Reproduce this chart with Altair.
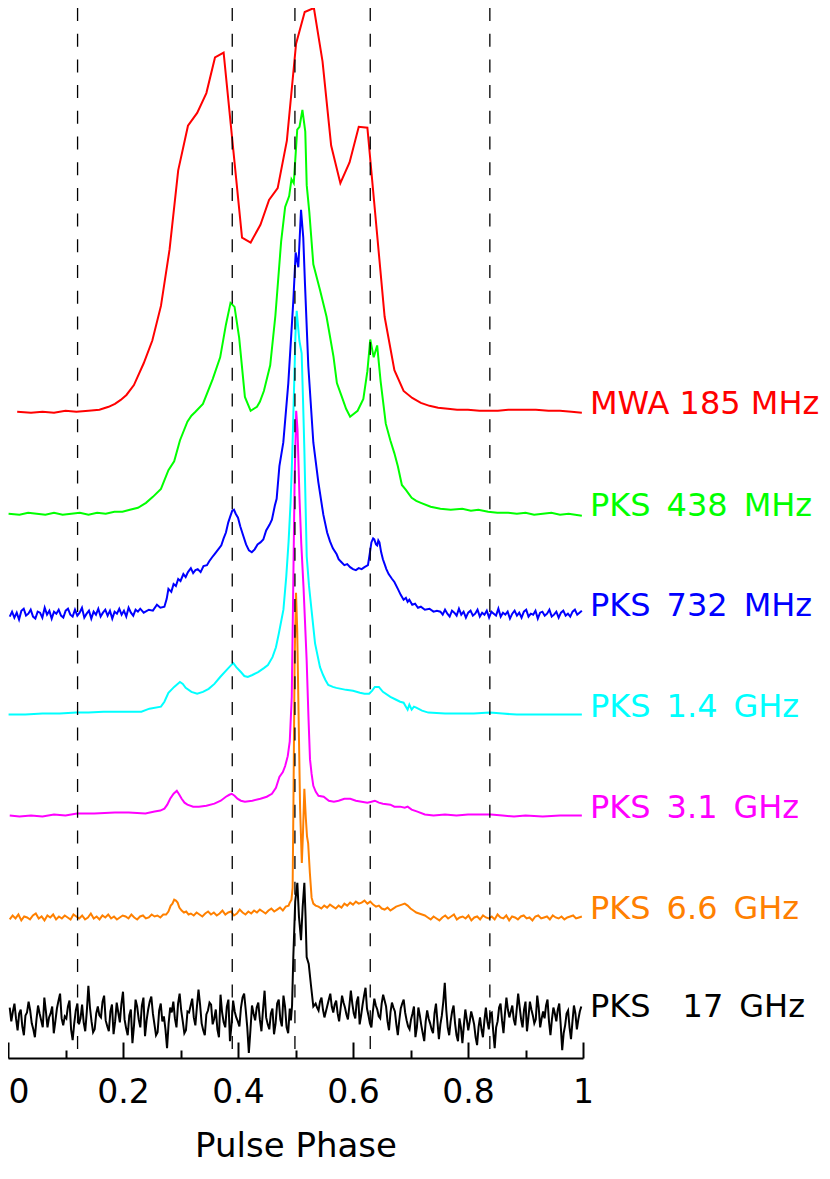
import altair as alt
import pandas as pd
import numpy as np

# ---------------- data ----------------
bands = ["MWA 185 MHz", "PKS 438 MHz", "PKS 732 MHz", "PKS 1.4 GHz",
         "PKS 3.1 GHz", "PKS 6.6 GHz", "PKS 17 GHz"]
label_text = ["MWA 185 MHz", "PKS\u2002438\u2002MHz", "PKS\u2002732\u2002MHz",
              "PKS\u20021.4\u2002GHz", "PKS\u20023.1\u2002GHz",
              "PKS\u20026.6\u2002GHz", "PKS\u2002\u200217\u2002GHz"]
colors = ["#ff0000", "#00ff00", "#0000ff", "#00ffff", "#ff00ff", "#ff8000", "#000000"]
# baseline offset of every profile (vertical stacking)
offsets = [653, 550, 449, 347, 245, 142, 43]

dashed_phases = [0.121, 0.390, 0.499, 0.630, 0.838]
major_ticks = [0.0, 0.2, 0.4, 0.6, 0.8, 1.0]
minor_ticks = [0.1, 0.3, 0.5, 0.7, 0.9]


def grid(a, b, heights):
    ph = np.linspace(a, b, len(heights))
    return list(zip(ph, heights))


# (phase, height above baseline)
red = [(0.016, 0), (0.04, -1), (0.06, 0), (0.08, -1), (0.10, 1), (0.119, 0), (0.14, 1),
       (0.159, 2), (0.175, 5), (0.186, 8), (0.196, 12), (0.206, 17), (0.219, 27),
       (0.236, 49), (0.251, 72), (0.266, 107), (0.281, 164), (0.296, 244), (0.313, 289),
       (0.329, 302), (0.345, 322), (0.360, 358), (0.375, 363), (0.407, 176), (0.422, 171),
       (0.439, 189), (0.454, 214), (0.469, 226), (0.485, 274), (0.501, 372), (0.516, 404),
       (0.532, 408), (0.547, 354), (0.562, 269), (0.578, 231), (0.594, 252), (0.610, 288),
       (0.625, 287), (0.655, 96), (0.672, 42), (0.688, 21), (0.703, 14), (0.718, 9),
       (0.733, 6), (0.748, 4), (0.765, 3), (0.781, 2), (0.80, 2), (0.82, 1), (0.852, 1),
       (0.87, 2), (0.90, 2), (0.918, 2), (0.94, 1), (0.96, 1), (0.98, 0), (0.998, -1)]

green = [(0.001, 0), (0.02, -1), (0.035, 1), (0.05, 0), (0.065, -1), (0.08, 1), (0.095, -1),
         (0.11, 0), (0.125, 1), (0.14, -1), (0.155, 1), (0.17, 0), (0.185, 2), (0.199, 2),
         (0.212, 4), (0.226, 6), (0.24, 11), (0.252, 17), (0.266, 25), (0.279, 44),
         (0.289, 53), (0.299, 74), (0.312, 93), (0.319, 99), (0.326, 103), (0.339, 111),
         (0.356, 136), (0.369, 158), (0.379, 191), (0.387, 213), (0.394, 209), (0.402, 178),
         (0.412, 118), (0.422, 104), (0.433, 108), (0.438, 113), (0.445, 124), (0.456, 150),
         (0.465, 200), (0.475, 275), (0.482, 310), (0.489, 321), (0.493, 338), (0.497, 334),
         (0.503, 388), (0.507, 391), (0.512, 408), (0.517, 386), (0.5195, 332), (0.524, 305),
         (0.531, 252), (0.5426, 226), (0.554, 199), (0.566, 159), (0.572, 132), (0.580, 119),
         (0.588, 106), (0.595, 98), (0.608, 104), (0.618, 116), (0.625, 144), (0.630, 176),
         (0.636, 158), (0.642, 170), (0.648, 134), (0.657, 91), (0.665, 74), (0.672, 61),
         (0.678, 48), (0.685, 29), (0.692, 24), (0.697, 20), (0.702, 16), (0.71, 13),
         (0.718, 11), (0.735, 7), (0.752, 5), (0.77, 4), (0.79, 5), (0.805, 3), (0.818, 4),
         (0.835, 2), (0.851, 1), (0.87, 1), (0.885, 0), (0.90, 1), (0.915, -1), (0.93, 0),
         (0.945, 1), (0.96, -1), (0.975, 0), (0.998, -2)]

blue = grid(0.003, 0.230, [-3, 2, -4, 1, -6, 3, 5, -2, 0, 4, -3, -5, 2, 1, -4, 6, -1, 3, -5, 2,
                           0, 4, -2, -4, 3, 5, -1, -3, 4, -2, 1, 6, -4, 0, 3, -5, 2, -1, 5, -3,
                           1, 4, -2, 3, -5, 2, 0, 5, -1, 3, -3, 6, 1, -2, 4, 2, 5])
blue += [(0.236, 1), (0.245, 4), (0.252, 3), (0.259, 9), (0.265, 6), (0.272, 7), (0.276, 15),
         (0.279, 25), (0.284, 22), (0.288, 30), (0.292, 28), (0.296, 35), (0.300, 33),
         (0.305, 40), (0.309, 37), (0.313, 42), (0.318, 46), (0.322, 41), (0.326, 44),
         (0.330, 45), (0.335, 42), (0.340, 48), (0.346, 49), (0.350, 53), (0.355, 57),
         (0.359, 60), (0.363, 63), (0.367, 66), (0.371, 69), (0.375, 76), (0.379, 82),
         (0.383, 92), (0.387, 99), (0.390, 104), (0.393, 105), (0.396, 101), (0.400, 97),
         (0.404, 88), (0.409, 79), (0.414, 70), (0.419, 64), (0.424, 62), (0.429, 65),
         (0.434, 70), (0.439, 72), (0.444, 75), (0.449, 84), (0.455, 90), (0.459, 95),
         (0.464, 109), (0.4672, 116), (0.472, 149), (0.4788, 173), (0.4875, 233),
         (0.4962, 316), (0.5003, 365), (0.5049, 350), (0.5096, 408), (0.5135, 380),
         (0.5165, 333), (0.5223, 250), (0.531, 173), (0.5397, 133), (0.5484, 100),
         (0.555, 82), (0.56, 73), (0.565, 66), (0.5716, 60), (0.575, 55), (0.58, 52),
         (0.585, 49), (0.590, 50), (0.595, 47), (0.600, 45), (0.605, 44), (0.610, 46),
         (0.615, 45), (0.620, 47), (0.626, 49), (0.629, 60), (0.632, 72), (0.635, 76),
         (0.637, 75), (0.640, 70), (0.642, 69), (0.644, 74), (0.646, 72), (0.649, 62),
         (0.652, 55), (0.655, 50), (0.658, 45), (0.662, 40), (0.668, 35), (0.672, 32),
         (0.678, 25), (0.683, 19), (0.688, 14), (0.692, 16), (0.695, 12), (0.698, 14),
         (0.703, 9), (0.708, 10), (0.713, 6), (0.718, 7), (0.725, 4), (0.733, 5),
         (0.740, 2), (0.746, 3)]
blue += grid(0.752, 0.998, [2, -1, 4, 0, -3, 3, 1, -2, 5, -1, 2, -4, 1, 3, -2, 0, 4, -3, 1, -1,
                            3, -4, 2, 0, -2, 5, -3, 1, -1, 2, -5, 0, 3, -2, 1, -4, 2, 4, -3, 0,
                            -1, 3, -5, 1, 2, -2, 0, 4, -3, -1, 2, -4, 1, 3, -2, 0, -3, 2, 4, -1,
                            1, 3])

cyan = [(0.001, 0), (0.03, 0), (0.06, 1), (0.09, 1), (0.119, 2), (0.14, 2), (0.166, 3),
        (0.2, 3), (0.232, 3), (0.246, 6), (0.266, 8), (0.272, 13), (0.279, 22), (0.289, 28),
        (0.299, 33), (0.304, 31), (0.309, 27), (0.319, 23), (0.329, 21), (0.339, 23),
        (0.349, 26), (0.359, 31), (0.369, 38), (0.380, 45), (0.388, 50), (0.392, 52),
        (0.397, 48), (0.405, 43), (0.411, 39), (0.417, 38), (0.425, 40), (0.435, 43),
        (0.445, 47), (0.452, 50), (0.460, 58), (0.466, 68), (0.471, 82), (0.479, 106),
        (0.484, 140), (0.488, 175), (0.4915, 215), (0.4945, 265), (0.4975, 330),
        (0.500, 385), (0.5021, 408), (0.5045, 392), (0.5067, 378), (0.5107, 365),
        (0.5130, 320), (0.5154, 268), (0.5195, 160), (0.5235, 130), (0.528, 105),
        (0.534, 72), (0.5426, 48), (0.548, 40), (0.552, 35), (0.557, 30), (0.565, 28),
        (0.571, 27), (0.588, 25), (0.60, 24), (0.612, 22), (0.620, 21), (0.628, 21),
        (0.633, 24), (0.638, 28), (0.645, 28), (0.652, 23), (0.665, 18), (0.675, 15),
        (0.682, 13), (0.688, 12), (0.692, 8), (0.695, 5), (0.698, 10), (0.702, 5),
        (0.706, 8), (0.71, 7), (0.72, 4), (0.731, 2), (0.76, 1), (0.785, 1), (0.81, 1),
        (0.838, 2), (0.86, 1), (0.885, 0), (0.92, 0), (0.96, 0), (0.998, 0)]

magenta = [(0.003, 0), (0.02, -1), (0.04, 0), (0.06, -1), (0.08, 1), (0.10, 0), (0.12, 2),
           (0.15, 2), (0.186, 3), (0.21, 3), (0.239, 2), (0.255, 4), (0.265, 5), (0.272, 7),
           (0.277, 11), (0.282, 17), (0.288, 22), (0.2936, 25), (0.298, 21), (0.302, 17),
           (0.307, 13), (0.312, 11), (0.322, 9), (0.332, 9), (0.345, 10), (0.359, 12),
           (0.370, 15), (0.379, 19), (0.385, 21), (0.389, 22), (0.394, 20), (0.399, 17),
           (0.405, 15), (0.412, 14), (0.425, 15), (0.439, 17), (0.450, 19), (0.459, 22),
           (0.466, 28), (0.472, 39), (0.478, 44), (0.482, 50), (0.4865, 60), (0.490, 75),
           (0.4935, 120), (0.4962, 237), (0.4985, 340), (0.5012, 409), (0.5035, 390),
           (0.507, 320), (0.510, 275), (0.514, 230), (0.5194, 157), (0.5225, 100),
           (0.5252, 57), (0.528, 42), (0.531, 30), (0.5353, 24), (0.540, 20), (0.549, 19),
           (0.558, 15), (0.5668, 14), (0.575, 15), (0.585, 17), (0.5953, 17), (0.605, 15),
           (0.615, 14), (0.625, 13), (0.632, 14), (0.638, 15), (0.645, 13), (0.652, 12),
           (0.665, 11), (0.672, 9), (0.682, 9), (0.690, 8), (0.695, 9), (0.702, 6),
           (0.712, 4), (0.725, 1), (0.74, 0), (0.76, 1), (0.78, 0), (0.80, 1), (0.84, 1),
           (0.86, 0), (0.88, -1), (0.90, 0), (0.93, -1), (0.96, 0), (0.998, 0)]

orange = grid(0.003, 0.270, [-2, 2, -1, 3, -3, 1, 0, -2, 2, 4, -1, 1, -3, 2, 0, 3, -2, 1, -1, 2,
                             0, -2, 3, 1, -1, 2, -2, 0, 4, -1, 1, -2, 2, 0, 3, -1, 1, -2, 0, 2,
                             1, -1, 3, 0, -2, 1, 2, -1, 0, 3, 1, 2, 0, 3])
orange += [(0.275, 3), (0.279, 6), (0.283, 12), (0.286, 14), (0.289, 18), (0.292, 17),
           (0.295, 15), (0.298, 10), (0.302, 7), (0.306, 5), (0.310, 6), (0.314, 3)]
orange += grid(0.318, 0.488, [4, 2, 5, 3, 1, 4, 6, 3, 5, 2, 4, 7, 3, 5, 6, 2, 4, 8, 5, 3,
                              6, 4, 7, 5, 8, 6, 4, 7, 9, 6, 8, 10, 7, 11, 12])
orange += [(0.490, 15), (0.493, 18), (0.495, 30), (0.4965, 120), (0.4985, 260), (0.5009, 328),
           (0.503, 290), (0.5055, 200), (0.508, 110), (0.511, 55), (0.513, 85), (0.5154, 130),
           (0.518, 100), (0.520, 82), (0.522, 75), (0.525, 45), (0.528, 20), (0.531, 14),
           (0.535, 12)]
orange += grid(0.540, 0.720, [11, 9, 12, 10, 13, 11, 9, 12, 10, 14, 12, 15, 13, 16, 14, 15, 17,
                              14, 16, 13, 11, 12, 9, 8, 10, 7, 9, 11, 12, 13, 14, 12, 9, 7, 5,
                              4, 3])
orange += grid(0.725, 0.998, [2, 0, -2, 1, -1, -3, 0, 2, -1, 1, 3, -2, 0, 1, -1, 2, -3, 0, 1,
                              -2, 2, 0, -1, 1, -2, 3, 0, -1, 2, -3, 1, 0, -2, 1, 2, -1, 0, -3,
                              1, 2, -1, 0, 1, -2, 2, 0, -1, 1, -2, 0, 1, 2, -1, 0, 1])

black = grid(0.003, 0.490, [
    8, -6, 4, 12, -3, -15, 2, 6, -11, -20, 0, 3, 14, 5, -8, -14, -22, -4, 10, 2,
    -5, -12, 18, 4, -12, -2, 2, 9, -18, -6, 7, 15, 22, -3, -10, -1, -3, 9, 15, -14,
    -25, -8, 5, 12, -9, -3, 11, -7, -16, 4, 30, 8, -6, -17, -14, 2, 9, 0, -2, 14,
    20, -5, -11, -16, 4, 11, -19, -6, 13, 3, -7, 12, 24, -4, -13, -20, 0, 6, -28, -10,
    16, 9, -4, -12, 10, 18, -21, -5, 6, 14, 19, 2, -9, -20, -17, 5, 12, -6, -1, -14,
    -33, -8, 8, 3, 14, -3, -12, 12, 22, 5, -6, -18, -15, 4, 3, 10, 17, -2, -10, 9,
    26, 11, -8, -15, -20, 1, 5, 13, 11, -9, -3, 6, -14, -22, 21, 3, -7, -12, 9, 16,
    -26, -9, 15, 4, -2, -6, -11, 8, 18, 22, 6, -12, -38, -15, 10, 2, -5, 8, 13, -4,
    -16, 6, 25, -2, -9, -14, 2, 7, -19, -8, 12, 16, -4, -11, 20, 9, -12, -18, 7])
black += [(0.492, -5), (0.494, 10), (0.4962, 59), (0.4995, 115), (0.5032, 134), (0.506, 100),
          (0.5096, 76), (0.5125, 110), (0.5154, 134), (0.5175, 100), (0.5194, 59), (0.523, 52),
          (0.527, 30), (0.531, 9)]
black += grid(0.535, 0.997, [
    12, 8, 5, 14, 18, 6, -2, 4, 10, 16, 22, 9, 3, 11, 15, 2, -6, 7, 20, 13,
    8, 1, -4, 10, 25, 12, 2, -3, 14, 19, -9, 0, 11, 20, 28, 7, 0, -8, -12, 4,
    17, 10, 6, -1, -3, 12, 21, 15, 9, -6, -15, 3, 13, 8, 4, -9, -20, -5, 7, 12,
    16, 3, -5, -11, -14, -4, 2, 9, -22, -12, 8, 0, -10, -18, -26, -6, 5, -3, -8, -14,
    -18, 2, 12, -6, -24, -9, 0, 14, 33, 6, -12, -20, -6, 4, 10, -8, -20, -26, -3, -12,
    -28, -10, 6, -4, -15, -6, 4, -2, -9, -22, -30, -12, -2, -14, -22, -5, 8, -6, -14, 2,
    3, -16, -33, -12, -6, 8, 12, -5, -18, 2, 18, 6, -2, 4, 10, -4, -10, 6, 22, 9,
    -4, -12, 6, 14, -16, -2, 14, 6, 0, -8, -4, 20, 8, -12, -3, 4, -3, 10, 16, -6,
    -20, -4, 8, 2, -6, 6, 12, -10, -35, -18, -10, 2, 5, -12, -24, -6, 10, 2, -14, -4, 4, 9])

profiles = [red, green, blue, cyan, magenta, orange, black]

# ---------------- tables ----------------
rows = []
for band, off, prof in zip(bands, offsets, profiles):
    for k, (ph, h) in enumerate(prof):
        rows.append({"band": band, "phase": float(ph), "flux": off + h, "k": k})
traces = pd.DataFrame(rows)
labels = pd.DataFrame({"band": bands, "text": label_text, "offset": offsets})
dashes = pd.DataFrame({"phase": dashed_phases})

W, H = 575, 1050
FONT = "DejaVu Sans"
xscale = alt.Scale(domain=[0, 1], nice=False, zero=False)
yscale = alt.Scale(domain=[0, 1061], nice=False, zero=False)
cscale = alt.Scale(domain=bands, range=colors)

lines = alt.Chart(traces).mark_line(strokeWidth=2, interpolate="linear").encode(
    x=alt.X("phase:Q", scale=xscale,
            axis=alt.Axis(orient="bottom", values=major_ticks, format="~g",
                          labelFont=FONT, labelFontSize=33, labelColor="black",
                          labelPadding=18, ticks=False, tickSize=0, domain=False,
                          labelFlush=False, labelOverlap=False, grid=False,
                          labelAlign={"expr": "datum.value == 0 ? 'left' : 'center'"},
                          title="Pulse Phase", titleFont=FONT, titleFontSize=34,
                          titleFontWeight="normal", titleColor="black", titleY=98,
                          titleBaseline="alphabetic")),
    y=alt.Y("flux:Q", scale=yscale, axis=None),
    color=alt.Color("band:N", scale=cscale, legend=None),
    order=alt.Order("k:Q"),
)

rules = alt.Chart(dashes).mark_rule(color="black", strokeWidth=1.3,
                                    strokeDash=[13, 12.7]).encode(
    x=alt.X("phase:Q", scale=xscale,
            axis=alt.Axis(orient="top", offset=-H, values=major_ticks, labels=False,
                          ticks=True, tickSize=16, tickWidth=2, tickColor="black",
                          domain=True, domainWidth=2, domainColor="black",
                          title=None, grid=False)),
)

texts = alt.Chart(labels).mark_text(align="left", baseline="alphabetic", dx=7, dy=2,
                                    font=FONT, fontSize=32).encode(
    x=alt.XDatum(1.0, scale=xscale,
                 axis=alt.Axis(orient="top", offset=-H, values=minor_ticks, labels=False,
                               ticks=True, tickSize=8, tickWidth=2, tickColor="black",
                               domain=False, title=None, grid=False)),
    y=alt.Y("offset:Q", scale=yscale, axis=None),
    text="text:N",
    color=alt.Color("band:N", scale=cscale, legend=None),
)

chart = alt.layer(lines, rules, texts).resolve_axis(x="independent").properties(
    width=W, height=H,
    autosize=alt.AutoSizeParams(type="none"),
    padding={"left": 0, "top": 0, "right": 239, "bottom": 108},
).configure(background="white", view=alt.ViewConfig(stroke=None))

chart.save("out.html", embed_options={"renderer": "svg", "actions": False})
